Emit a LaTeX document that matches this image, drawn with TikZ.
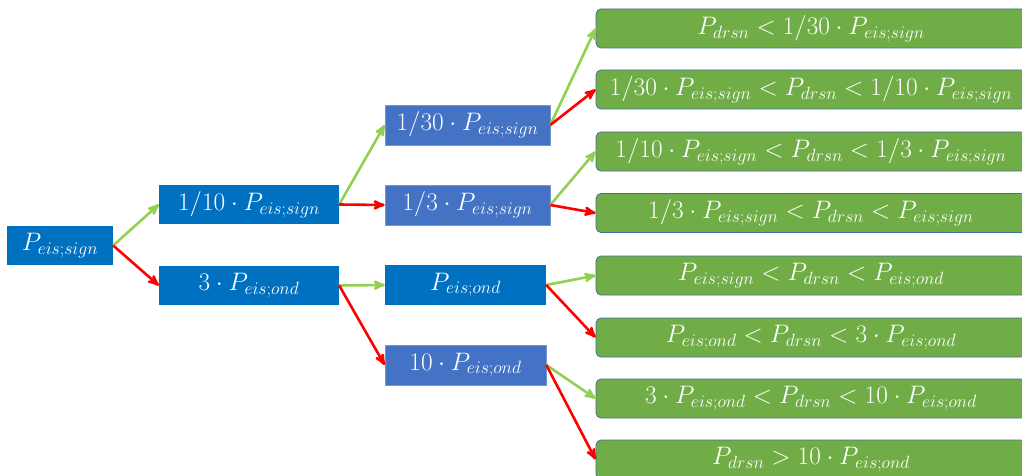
\documentclass[tikz,border=0pt]{standalone}
\usepackage{fix-cm}
\usepackage{xcolor}
\usepackage{amssymb}
\usepackage{amsmath}
\usepackage{tikz}
\usetikzlibrary{shapes, arrows}

\definecolor{darkblue}{HTML}{0070C0}
\definecolor{midblue}{HTML}{4472C4}
\definecolor{leafgreen}{HTML}{70AD47}
\definecolor{leafline}{HTML}{41719C}
\definecolor{yesgreen}{HTML}{92D050}
\definecolor{nored}{HTML}{FF0000}

\begin{document}
\begin{tikzpicture}[x=1pt,y=-1pt,>=stealth',auto,
      every node/.style={text=white,inner sep=0pt,font=\fontsize{25.3}{29}\selectfont},
      main node/.style={fill=darkblue,minimum height=39pt},
      mid node/.style={fill=midblue,draw=midblue!75!white,line width=0.6pt,minimum height=40pt},
      leaf node/.style={fill=leafgreen,draw=leafline,line width=0.8pt,rounded corners=5pt,
        minimum width=430pt,minimum height=39pt},
      yes/.style={->,draw=yesgreen,line width=2.6pt},
      no/.style={->,draw=nored,line width=2.6pt}]
    \useasboundingbox (0,0) rectangle (1022,476);

        \node[main node, minimum width=106pt] (0) at (60,245.5) {$P_{eis;sign}$};
        \node[main node, minimum width=180pt] (1) at (249,204.5) {$1/10\cdot P_{eis;sign}$};
        \node[main node, minimum width=180pt] (2) at (249,285.5) {$3\cdot P_{eis;ond}$};
        \node[mid node, minimum width=165pt] (11) at (467.5,125) {$1/30\cdot P_{eis;sign}$};
        \node[mid node, minimum width=165pt] (12) at (467.5,205) {$1/3\cdot P_{eis;sign}$};
        \node[main node, minimum width=161pt, minimum height=40pt] (21) at (465.5,285) {$P_{eis;ond}$};
        \node[mid node, minimum width=161pt] (22) at (465.5,365) {$10\cdot P_{eis;ond}$};

        \node[leaf node] (111) at (811,28.5) {$P_{drsn}<1/30\cdot P_{eis;sign}$};
        \node[leaf node] (112) at (811,89.5) {$1/30\cdot P_{eis;sign}<P_{drsn}<1/10\cdot P_{eis;sign}$};
        \node[leaf node] (121) at (811,151.5) {$1/10\cdot P_{eis;sign}<P_{drsn}<1/3\cdot P_{eis;sign}$};
        \node[leaf node] (122) at (811,213) {$1/3\cdot P_{eis;sign}<P_{drsn}<P_{eis;sign}$};
        \node[leaf node] (211) at (811,275.5) {$P_{eis;sign}<P_{drsn}<P_{eis;ond}$};
        \node[leaf node] (212) at (811,337.5) {$P_{eis;ond}<P_{drsn}<3\cdot P_{eis;ond}$};
        \node[leaf node] (221) at (811,398.5) {$3\cdot P_{eis;ond}<P_{drsn}<10\cdot P_{eis;ond}$};
        \node[leaf node] (222) at (811,459.5) {$P_{drsn}>10\cdot P_{eis;ond}$};

        \path
            (0.east) edge[yes] (1.west)
            (0.east) edge[no] (2.west)
            (1.east) edge[yes] (11.west)
            (1.east) edge[no] (12.west)
            (2.east) edge[yes] (21.west)
            (2.east) edge[no] (22.west)
            (11.east) edge[yes] (111.west)
            (11.east) edge[no] (112.west)
            (12.east) edge[yes] (121.west)
            (12.east) edge[no] (122.west)
            (21.east) edge[yes] (211.west)
            (21.east) edge[no] (212.west)
            (22.east) edge[yes] (221.west)
            (22.east) edge[no] (222.west)
        ;
    \end{tikzpicture}
\end{document}
